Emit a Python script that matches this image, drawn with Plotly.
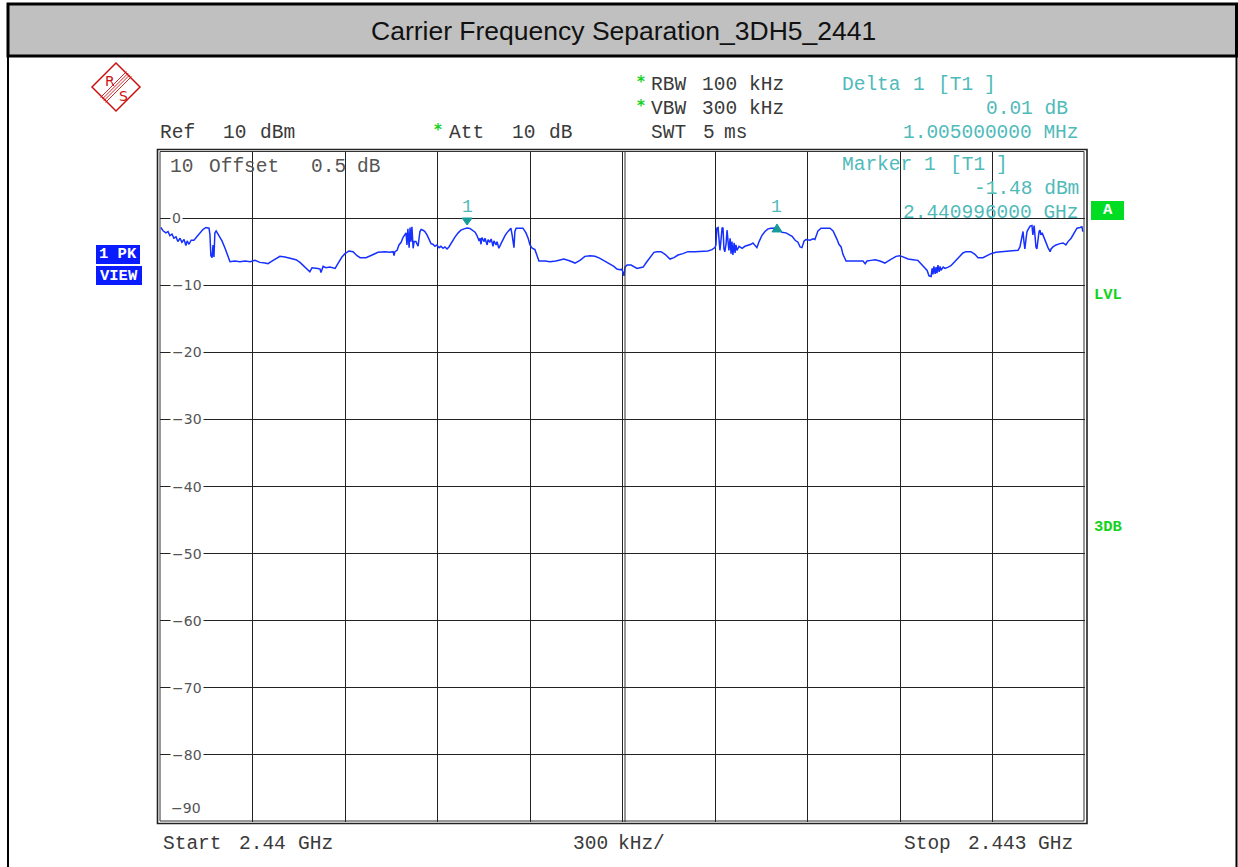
import plotly.graph_objects as go

# ---- Sweep data: frequency offset from start (kHz) and measured level (dBm) ----
START_GHZ = 2.440
STOP_GHZ = 2.443

offset_khz = [
    3, 10, 19, 26, 32, 39, 45, 52, 58, 65,
    71, 78, 84, 88, 94, 101, 110, 120, 130, 139,
    149, 159, 162, 165, 169, 172, 175, 178, 182, 191,
    201, 211, 221, 227, 243, 259, 276, 292, 308, 324,
    341, 350, 363, 376, 389, 405, 422, 441, 454, 470,
    486, 493, 503, 512, 519, 522, 529, 538, 551, 568,
    577, 590, 600, 613, 626, 639, 649, 668, 688, 707,
    730, 746, 756, 759, 762, 769, 775, 782, 788, 795,
    798, 801, 804, 808, 811, 814, 817, 821, 824, 830,
    837, 843, 847, 853, 859, 866, 872, 879, 885, 892,
    898, 905, 911, 918, 924, 931, 937, 944, 950, 957,
    967, 976, 986, 996, 1005, 1015, 1022, 1028, 1035, 1038,
    1041, 1044, 1051, 1054, 1061, 1064, 1070, 1074, 1080, 1083,
    1090, 1093, 1099, 1106, 1112, 1119, 1125, 1132, 1138, 1142,
    1145, 1148, 1151, 1155, 1168, 1177, 1187, 1194, 1200, 1207,
    1216, 1223, 1229, 1249, 1265, 1284, 1297, 1310, 1330, 1346,
    1362, 1378, 1395, 1411, 1427, 1443, 1459, 1472, 1482, 1492,
    1498, 1502, 1505, 1508, 1515, 1528, 1537, 1547, 1557, 1567,
    1576, 1589, 1602, 1612, 1625, 1638, 1654, 1667, 1680, 1696,
    1712, 1735, 1761, 1777, 1790, 1800, 1803, 1806, 1810, 1813,
    1816, 1819, 1823, 1826, 1829, 1832, 1836, 1839, 1842, 1845,
    1849, 1852, 1855, 1858, 1862, 1865, 1868, 1871, 1878, 1888,
    1897, 1907, 1917, 1923, 1930, 1936, 1943, 1952, 1962, 1972,
    1982, 1991, 2001, 2008, 2017, 2030, 2040, 2050, 2060, 2069,
    2076, 2082, 2089, 2095, 2108, 2118, 2124, 2128, 2134, 2144,
    2157, 2173, 2183, 2189, 2196, 2202, 2209, 2215, 2225, 2238,
    2254, 2270, 2280, 2287, 2293, 2306, 2319, 2335, 2351, 2361,
    2374, 2387, 2400, 2413, 2426, 2442, 2458, 2468, 2478, 2488,
    2494, 2501, 2504, 2507, 2510, 2514, 2517, 2520, 2523, 2527,
    2530, 2533, 2540, 2546, 2556, 2565, 2575, 2585, 2595, 2604,
    2614, 2630, 2643, 2653, 2669, 2682, 2695, 2711, 2731, 2757,
    2783, 2789, 2793, 2796, 2799, 2802, 2805, 2809, 2812, 2818,
    2822, 2828, 2831, 2835, 2838, 2841, 2844, 2848, 2851, 2854,
    2857, 2861, 2867, 2874, 2880, 2887, 2890, 2896, 2906, 2919,
    2929, 2938, 2945, 2955, 2964, 2974, 2984, 2990, 2993,
]

level_dbm = [
    -1.4, -1.9, -2.2, -2.0, -2.6, -2.4, -3.0, -2.8, -3.5, -3.0,
    -3.6, -3.2, -4.1, -3.4, -3.9, -3.3, -3.3, -2.8, -2.2, -1.7,
    -1.4, -1.5, -2.5, -5.6, -5.9, -4.0, -5.8, -2.2, -1.9, -2.6,
    -3.4, -4.5, -5.8, -6.5, -6.4, -6.5, -6.4, -6.5, -6.3, -6.6,
    -6.7, -6.8, -6.4, -6.0, -5.7, -5.8, -6.0, -6.2, -6.6, -7.3,
    -8.0, -7.4, -7.4, -7.5, -7.6, -8.1, -7.2, -7.4, -7.3, -7.5,
    -6.8, -5.8, -5.3, -4.9, -5.0, -5.6, -5.9, -5.9, -5.5, -5.1,
    -5.0, -5.1, -5.0, -5.6, -5.0, -4.8, -4.0, -3.6, -2.9, -2.4,
    -2.2, -4.0, -1.6, -4.4, -1.4, -3.5, -1.3, -4.5, -3.5, -3.5,
    -4.2, -2.0, -1.7, -1.8, -2.0, -2.5, -3.0, -3.8, -3.9, -4.2,
    -4.0, -4.4, -4.2, -4.5, -4.3, -4.6, -4.3, -3.8, -3.2, -2.8,
    -2.2, -1.8, -1.6, -1.48, -1.55, -1.8, -2.1, -2.6, -3.4, -3.0,
    -3.9, -2.9, -3.5, -3.0, -4.0, -3.2, -3.6, -3.1, -4.2, -3.4,
    -4.0, -3.5, -4.5, -3.8, -3.2, -2.6, -2.2, -1.8, -1.5, -2.5,
    -4.0, -4.4, -2.0, -1.5, -1.5, -1.5, -2.2, -3.0, -4.0, -4.5,
    -4.7, -5.8, -6.4, -6.4, -6.5, -6.4, -6.2, -6.1, -6.4, -6.7,
    -6.3, -5.7, -5.6, -5.7, -6.0, -6.4, -6.8, -7.2, -7.6, -7.7,
    -7.6, -8.4, -8.6, -7.3, -7.0, -7.0, -7.3, -7.5, -7.4, -7.3,
    -6.7, -5.8, -5.1, -5.0, -5.0, -5.4, -6.1, -5.9, -5.5, -5.3,
    -5.0, -5.0, -4.9, -4.9, -4.7, -4.4, -4.0, -1.5, -1.4, -3.0,
    -4.8, -3.5, -1.4, -1.5, -4.6, -5.0, -3.8, -1.8, -3.5, -4.8,
    -3.0, -5.3, -3.5, -5.5, -3.7, -5.2, -4.0, -4.8, -4.2, -4.5,
    -4.2, -4.1, -3.9, -3.7, -4.0, -4.4, -3.5, -2.6, -2.0, -1.6,
    -1.5, -1.5, -1.47, -1.7, -2.1, -2.2, -2.4, -2.7, -3.3, -3.6,
    -4.3, -4.4, -3.4, -3.2, -3.3, -3.1, -3.2, -2.6, -1.9, -1.5,
    -1.5, -1.5, -1.9, -2.4, -3.2, -3.9, -4.3, -5.4, -6.4, -6.4,
    -6.4, -6.4, -6.4, -6.8, -6.4, -6.3, -6.2, -6.4, -6.7, -6.4,
    -6.0, -5.7, -5.6, -5.8, -6.1, -6.2, -6.3, -6.8, -7.3, -7.8,
    -8.6, -8.7, -7.5, -8.4, -7.2, -8.3, -7.3, -8.2, -7.0, -8.0,
    -7.2, -7.8, -7.3, -7.5, -7.3, -7.1, -6.6, -6.1, -5.7, -5.2,
    -5.0, -5.0, -5.4, -5.9, -5.9, -5.6, -5.3, -5.1, -5.0, -4.9,
    -4.8, -4.3, -3.2, -2.2, -2.0, -3.5, -4.6, -3.0, -2.0, -1.5,
    -1.2, -1.1, -2.5, -1.1, -3.0, -4.3, -4.6, -3.0, -2.0, -1.8,
    -2.5, -2.2, -3.0, -3.8, -4.4, -5.0, -4.6, -4.3, -4.0, -3.8,
    -3.7, -4.0, -3.5, -3.0, -2.2, -1.5, -1.4, -1.3, -2.0,
]
assert len(offset_khz) == len(level_dbm)

# Markers
marker1_khz = 996          # Marker 1 [T1]
marker1_dbm = -1.48
delta1_khz = 1005          # Delta 1 [T1] relative to marker 1
delta1_db = 0.01

y_ticks = [0, -10, -20, -30, -40, -50, -60, -70, -80]

freq_ghz = [START_GHZ + k / 1e6 for k in offset_khz]
m1_f = START_GHZ + marker1_khz / 1e6
d1_f = START_GHZ + (marker1_khz + delta1_khz) / 1e6
d1_lvl = marker1_dbm + delta1_db

# ---- Page geometry (pixels) ----
W, H = 1238, 867
PL, PR, PT, PB = 160, 1085, 151, 822


def px(x):
    return x / W


def py(y):
    return 1 - y / H


MONO = "Liberation Mono, DejaVu Sans Mono, monospace"
SANS = "DejaVu Sans, sans-serif"
TEAL = "#4fbaba"
TEAL_DARK = "#179a9a"
GREEN = "#14d21e"
BLUE = "#0a1cff"
DARK = "#3a3a3a"
RED = "#cc1111"

fig = go.Figure()
fig.add_trace(go.Scatter(
    x=freq_ghz, y=level_dbm, mode="lines",
    line=dict(color="#1630ff", width=1.5),
    hoverinfo="skip", showlegend=False,
))

annotations = []


def text(x, y, s, color=DARK, size=19.5, family=MONO, anchor="left", bold=False, **kw):
    if bold:
        s = "<b>" + s + "</b>"
    d = dict(x=px(x), y=py(y), xref="paper", yref="paper", text=s, showarrow=False,
             xanchor=anchor, yanchor="middle", font=dict(family=family, size=size, color=color),
             borderpad=0, borderwidth=0, yshift=-2)
    d.update(kw)
    annotations.append(d)


def star(x, y):
    text(x, y, "*", color=GREEN, size=15, family=SANS, bold=True)


# Title
text(623, 31, "Carrier Frequency Separation_3DH5_2441", color="#111111", size=26.5,
     family="Liberation Sans, Arial, sans-serif", anchor="center", yshift=0)

# Instrument settings
star(637, 80); text(651, 83, "RBW"); text(702, 83, "100"); text(749, 83, "kHz")
star(637, 104); text(651, 107, "VBW"); text(702, 107, "300"); text(749, 107, "kHz")
text(651, 131, "SWT"); text(703, 131, "5"); text(724, 131, "ms")
text(160, 131, "Ref"); text(223, 131, "10"); text(260, 131, "dBm")
star(434, 128); text(449, 131, "Att"); text(512, 131, "10"); text(549, 131, "dB")

# Marker readouts
text(842, 83, "Delta", color=TEAL); text(913, 83, "1", color=TEAL); text(938, 83, "[T1", color=TEAL)
text(984, 83, "]", color=TEAL)
text(1068, 107, "0.01 dB", color=TEAL, anchor="right")
text(1079, 131, "1.005000000 MHz", color=TEAL, anchor="right")
text(842, 163, "Marker", color=TEAL); text(924, 163, "1", color=TEAL); text(950, 163, "[T1", color=TEAL)
text(996, 163, "]", color=TEAL)
text(1079, 187, "-1.48 dBm", color=TEAL, anchor="right")
text(1079, 211, "2.440996000 GHz", color=TEAL, anchor="right")

# Offset note inside the grid
text(170, 165, "10", color="#555555"); text(209, 165, "Offset", color="#555555")
text(311, 165, "0.5", color="#555555"); text(357, 165, "dB", color="#555555")

# Bottom frequency annotations
text(163, 842, "Start"); text(239, 842, "2.44"); text(298, 842, "GHz")
text(573, 842, "300"); text(618, 842, "kHz/")
text(904, 842, "Stop"); text(968, 842, "2.443"); text(1038, 842, "GHz")

# Level labels (sit on the grid lines with a white backing)
for v in y_ticks:
    lab = "0" if v == 0 else "\u2212" + str(abs(v))
    annotations.append(dict(x=px(170), y=v, xref="paper", yref="y", text=lab, showarrow=False,
                            xanchor="left", yanchor="middle", bgcolor="white", borderpad=1,
                            font=dict(family=SANS, size=14, color="#555555")))
text(171, 808, "\u221290", color="#555555", size=14, family=SANS, yshift=0)

# Side badges
text(118, 254, "1 PK", color="white", size=15.5, anchor="center", bold=True, yshift=0)
text(119, 276, "VIEW", color="white", size=15.5, anchor="center", bold=True, yshift=0)
text(1107.5, 210, "A", color="white", size=15.5, anchor="center", bold=True, yshift=0)
text(1108, 295, "LVL", color=GREEN, size=15.5, anchor="center", bold=True, yshift=0)
text(1108, 527, "3DB", color=GREEN, size=15.5, anchor="center", bold=True, yshift=0)

# Marker number labels above the trace
for f, lv in ((m1_f, marker1_dbm), (d1_f, d1_lvl)):
    annotations.append(dict(x=f, y=lv, xref="x", yref="y", text="1", showarrow=False,
                            xanchor="center", yanchor="middle", yshift=21,
                            font=dict(family=MONO, size=18, color=TEAL)))

shapes = []
# Outer page frame and title bar
shapes.append(dict(type="rect", xref="paper", yref="paper", x0=px(8), x1=px(1236.5), y0=py(4), y1=py(56),
                   fillcolor="#c0c0c0", line=dict(color="black", width=3), layer="below"))
shapes.append(dict(type="line", xref="paper", yref="paper", x0=px(8), x1=px(8), y0=py(56), y1=0,
                   line=dict(color="black", width=2)))
shapes.append(dict(type="line", xref="paper", yref="paper", x0=px(1236.5), x1=px(1236.5), y0=py(56), y1=0,
                   line=dict(color="black", width=2)))
# Double border around the grid
shapes.append(dict(type="rect", xref="paper", yref="paper", x0=px(157.5), x1=px(1087), y0=py(149.5), y1=py(823.5),
                   line=dict(color="#222222", width=1.6)))
shapes.append(dict(type="rect", xref="paper", yref="paper", x0=px(PL), x1=px(PR - 1), y0=py(PT + 0.5), y1=py(PB - 1),
                   line=dict(color="#333333", width=1)))
# Centre reference line (drawn doubled)
shapes.append(dict(type="line", xref="paper", yref="paper", x0=px(625), x1=px(625), y0=py(PT), y1=py(PB),
                   line=dict(color="#333333", width=1)))
# Badge backgrounds
shapes.append(dict(type="rect", xref="paper", yref="paper", x0=px(96), x1=px(140), y0=py(245), y1=py(264),
                   fillcolor=BLUE, line=dict(width=0), layer="below"))
shapes.append(dict(type="rect", xref="paper", yref="paper", x0=px(96), x1=px(142), y0=py(266), y1=py(285),
                   fillcolor=BLUE, line=dict(width=0), layer="below"))
shapes.append(dict(type="rect", xref="paper", yref="paper", x0=px(1091), x1=px(1124), y0=py(201), y1=py(220),
                   fillcolor="#00dd22", line=dict(width=0), layer="below"))
# Marker triangles anchored to their marker positions
shapes.append(dict(type="path", xref="x", yref="y", xsizemode="pixel", ysizemode="pixel",
                   xanchor=m1_f, yanchor=marker1_dbm, path="M-5,10 L5,10 L0,3 Z",
                   fillcolor=TEAL_DARK, line=dict(color=TEAL_DARK, width=1)))
shapes.append(dict(type="path", xref="x", yref="y", xsizemode="pixel", ysizemode="pixel",
                   xanchor=d1_f, yanchor=d1_lvl, path="M-5,-4 L5,-4 L0,4 Z",
                   fillcolor=TEAL_DARK, line=dict(color=TEAL_DARK, width=1)))

# Rohde & Schwarz logo (diamond with R / S and diagonal stripes)
cx, cy, r = 116, 87, 24
shapes.append(dict(type="path", xref="paper", yref="paper",
                   path=f"M{px(cx)},{py(cy - r)} L{px(cx + r)},{py(cy)} L{px(cx)},{py(cy + r)} L{px(cx - r)},{py(cy)} Z",
                   line=dict(color=RED, width=1.5)))
for off in (-2.5, -0.8, 0.8, 2.5):
    shapes.append(dict(type="line", xref="paper", yref="paper",
                       x0=px(cx - 13 + off), y0=py(cy + 13 + off), x1=px(cx + 13 + off), y1=py(cy - 13 + off),
                       line=dict(color=RED, width=0.9)))
text(cx - 6, cy - 6, "R", color=RED, size=14, family=SANS, anchor="center", yshift=0)
text(cx + 7, cy + 9, "S", color=RED, size=14, family=SANS, anchor="center", yshift=0)

fig.update_layout(
    width=W, height=H, autosize=False,
    margin=dict(l=0, r=0, t=0, b=0, pad=0),
    paper_bgcolor="white", plot_bgcolor="white",
    showlegend=False,
    xaxis=dict(domain=[px(PL), px(PR)], range=[START_GHZ, STOP_GHZ], tick0=START_GHZ, dtick=0.0003,
               showgrid=True, gridcolor="#222222", gridwidth=1.3, showticklabels=False,
               zeroline=False, showline=False, ticks=""),
    yaxis=dict(domain=[py(PB), py(PT)], range=[-90, 10], tick0=0, dtick=10,
               showgrid=True, gridcolor="#222222", gridwidth=1.3, showticklabels=False,
               zeroline=False, showline=False, ticks=""),
    annotations=annotations,
    shapes=shapes,
)

fig.write_html("out.html")
